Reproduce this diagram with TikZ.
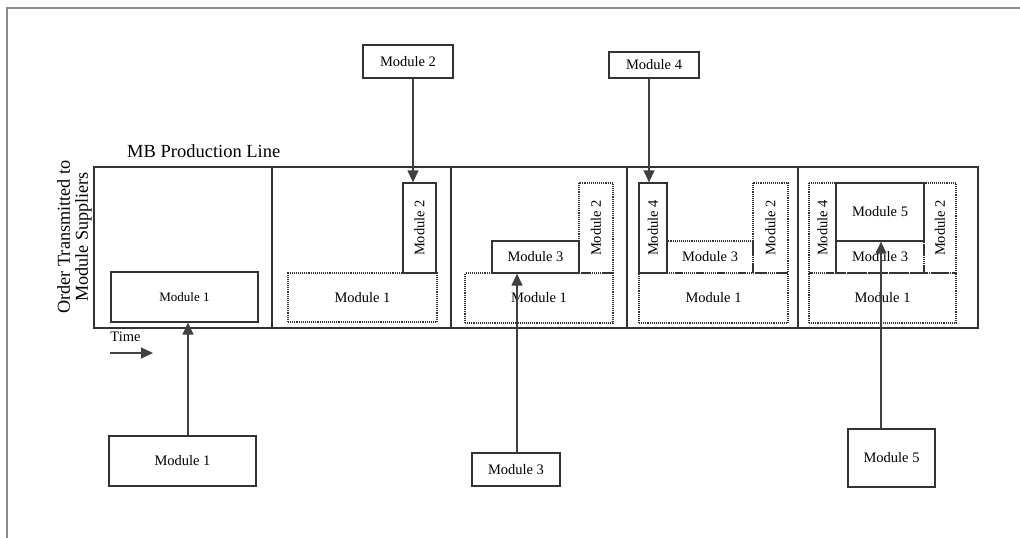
\documentclass[tikz,border=0pt]{standalone}
\usepackage{fontspec}
\setmainfont{Liberation Serif}
\usetikzlibrary{arrows.meta}
\begin{document}
\begin{tikzpicture}[x=1pt,y=-1pt,
  lbl/.style={font=\fontsize{14.5}{16}\selectfont},
  solidbox/.style={draw=black!80, line width=1.3pt, inner sep=0pt, lbl},
  dotbox/.style={draw=black!80, line width=1.1pt, densely dotted, inner sep=0pt, lbl},
  panel/.style={draw=black!80, line width=1.4pt, inner sep=0pt},
  arr/.style={draw=black!75, line width=1.3pt, -{Triangle[length=12pt,width=11pt]}},
  frame/.style={draw=black!45, line width=1.8pt}
]
\useasboundingbox (0,0) rectangle (1020,538);

% outer frame
\coordinate (f0) at (1020,8);
\coordinate (f1) at (7,8);
\coordinate (f2) at (7,538);
\draw[frame] (f0) -- (f1) -- (f2);

% production line panels
\node[panel, minimum width=178pt, minimum height=161pt] (p1) at (183,247.5) {};
\node[panel, minimum width=179pt, minimum height=161pt] (p2) at (361.5,247.5) {};
\node[panel, minimum width=176pt, minimum height=161pt] (p3) at (539,247.5) {};
\node[panel, minimum width=171pt, minimum height=161pt] (p4) at (712.5,247.5) {};
\node[panel, minimum width=180pt, minimum height=161pt] (p5) at (888,247.5) {};

\node[anchor=base west, inner sep=0pt, font=\fontsize{18.5}{21}\selectfont] (title) at (127,157) {MB Production Line};
\node[rotate=90, align=center, inner sep=0pt, font=\fontsize{18.2}{18}\selectfont] (order) at (74.5,237) {Order Transmitted to\\Module Suppliers};

% panel 1
\node[solidbox, minimum width=147pt, minimum height=50pt, font=\fontsize{13}{15}\selectfont] (a1) at (184.5,297) {Module 1};

% panel 2
\node[dotbox, minimum width=149pt, minimum height=49pt] (b1) at (362.5,297.5) {Module 1};
\node[solidbox, rotate=90, minimum width=90pt, minimum height=33pt] (b2) at (419.5,228) {Module 2};

% panel 3
\node[dotbox, minimum width=148pt, minimum height=50pt] (c1) at (539,298) {Module 1};
\node[dotbox, rotate=90, minimum width=90pt, minimum height=34pt] (c2) at (596,228) {Module 2};
\node[solidbox, minimum width=87pt, minimum height=32pt] (c3) at (535.5,257) {Module 3};

% panel 4
\node[dotbox, minimum width=149pt, minimum height=50pt] (d1) at (713.5,298) {Module 1};
\node[dotbox, rotate=90, minimum width=90pt, minimum height=35pt] (d2) at (770.5,228) {Module 2};
\node[dotbox, minimum width=86pt, minimum height=32pt] (d3) at (710,257) {Module 3};
\node[solidbox, rotate=90, minimum width=90pt, minimum height=28pt] (d4) at (653,228) {Module 4};

% panel 5
\node[dotbox, minimum width=147pt, minimum height=50pt] (e1) at (882.5,298) {Module 1};
\node[dotbox, rotate=90, minimum width=90pt, minimum height=32pt] (e2) at (940,228) {Module 2};
\node[dotbox, minimum width=88pt, minimum height=32pt] (e3) at (880,257) {Module 3};
\node[dotbox, rotate=90, minimum width=90pt, minimum height=27pt] (e4) at (822.5,228) {Module 4};
\node[solidbox, minimum width=88pt, minimum height=58pt] (e5) at (880,212) {Module 5};

% supplier boxes
\node[solidbox, minimum width=90pt, minimum height=33pt] (t2) at (408,61.5) {Module 2};
\node[solidbox, minimum width=90pt, minimum height=26pt] (t4) at (654,65) {Module 4};
\node[solidbox, minimum width=147pt, minimum height=50pt] (s1) at (182.5,461) {Module 1};
\node[solidbox, minimum width=88pt, minimum height=33pt] (s3) at (516,469.5) {Module 3};
\node[solidbox, minimum width=87pt, minimum height=58pt] (s5) at (891.5,458) {Module 5};

% delivery arrows
\draw[arr] ([xshift=5pt]t2.south) -- ([xshift=5pt]t2.south |- b2.east);
\draw[arr] ([xshift=-5pt]t4.south) -- ([xshift=-5pt]t4.south |- d4.east);
\draw[arr] ([xshift=5.5pt]s1.north) -- ([xshift=5.5pt]s1.north |- a1.south);
\draw[arr] ([xshift=1pt]s3.north) -- ([xshift=1pt]s3.north |- c3.south);
\draw[arr] ([xshift=-10.5pt]s5.north) -- ([xshift=-10.5pt]s5.north |- e5.south);

% time
\node[lbl, font=\fontsize{14.5}{16}\selectfont, inner sep=0pt] (time) at (125.5,337) {Time};
\coordinate (tm0) at (110,353);
\coordinate (tm1) at (153,353);
\draw[arr] (tm0) -- (tm1);
\end{tikzpicture}
\end{document}
